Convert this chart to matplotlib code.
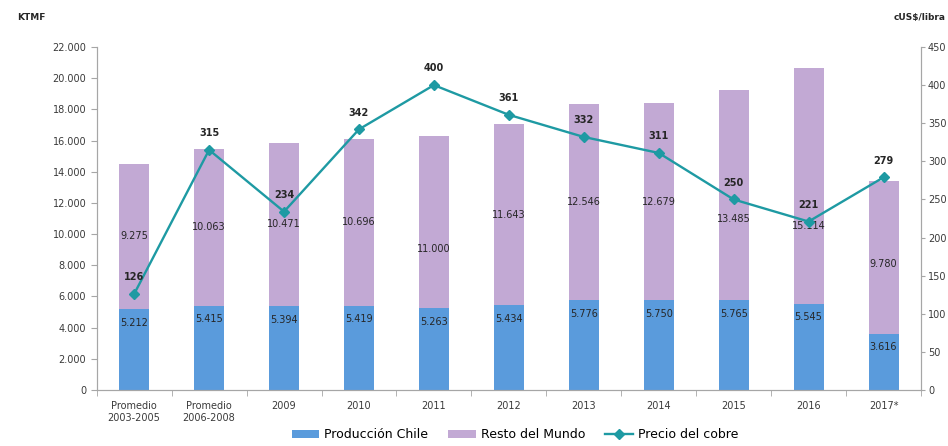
import numpy as np
import matplotlib.pyplot as plt
from matplotlib.ticker import FuncFormatter

# Datos
categorias = ['Promedio\n2003-2005', 'Promedio\n2006-2008', '2009', '2010', '2011',
              '2012', '2013', '2014', '2015', '2016', '2017*']
prod_chile = [5212, 5415, 5394, 5419, 5263, 5434, 5776, 5750, 5765, 5545, 3616]
resto_mundo = [9275, 10063, 10471, 10696, 11000, 11643, 12546, 12679, 13485, 15114, 9780]
precio_cobre = [126, 315, 234, 342, 400, 361, 332, 311, 250, 221, 279]

# desplazamiento vertical (pt) de las etiquetas de "Resto del Mundo"
desplaz_resto = [0, 0, 0, 0, -19, 0, 0, 0, -17, -29, -5]

azul = '#5A9BDC'
lila = '#C2A9D4'
verde = '#1E9AA3'
gris = '#A6A6A6'
texto = '#262626'

def miles(v, pos):
    return f'{int(v):,}'.replace(',', '.')

x = np.arange(len(categorias))

fig = plt.figure(figsize=(9.48, 4.46), dpi=100)
ax = fig.add_axes([0.102, 0.1256, 0.8695, 0.769])
ax2 = ax.twinx()

b1 = ax.bar(x, prod_chile, width=0.4, color=azul, label='Producción Chile', zorder=2)
b2 = ax.bar(x, resto_mundo, width=0.4, bottom=prod_chile, color=lila,
            label='Resto del Mundo', zorder=2)

for i in range(len(x)):
    ax.annotate(miles(prod_chile[i], None), (x[i], prod_chile[i]), xytext=(0, -10),
                textcoords='offset points', ha='center', va='center',
                fontsize=7, color=texto)
    ax.annotate(miles(resto_mundo[i], None), (x[i], prod_chile[i] + resto_mundo[i] / 2),
                xytext=(0, desplaz_resto[i]), textcoords='offset points',
                ha='center', va='center', fontsize=7, color=texto)

l1, = ax2.plot(x, precio_cobre, color=verde, lw=1.7, marker='D', ms=5.5,
               label='Precio del cobre', zorder=3)
for i in range(len(x)):
    ax2.annotate(str(precio_cobre[i]), (x[i], precio_cobre[i]), xytext=(0, 12),
                 textcoords='offset points', ha='center', va='center',
                 fontsize=7, fontweight='bold', color=texto)

ax.set_xlim(-0.5, len(x) - 0.5)
ax.set_ylim(0, 22000)
ax.set_yticks(np.arange(0, 22001, 2000))
ax.yaxis.set_major_formatter(FuncFormatter(miles))
ax2.set_ylim(0, 450)
ax2.set_yticks(np.arange(0, 451, 50))

ax.set_xticks(x)
ax.set_xticklabels(categorias, fontsize=7, color='#3a3a3a')
ax.set_xticks(np.arange(-0.5, len(x), 1), minor=True)
ax.tick_params(axis='x', which='major', length=0, pad=8)
ax.tick_params(axis='x', which='minor', length=4, color=gris)
ax.tick_params(axis='y', labelsize=7, length=4, color=gris, labelcolor='#3a3a3a')
ax2.tick_params(axis='y', labelsize=7, length=3, pad=2, color=gris, labelcolor='#3a3a3a')

for a in (ax, ax2):
    a.spines['top'].set_visible(False)
    for s in ('left', 'right', 'bottom'):
        a.spines[s].set_color(gris)

ax.set_zorder(ax2.get_zorder() - 1)
ax2.patch.set_visible(False)

fig.text(0.018, 0.955, 'KTMF', fontsize=6.5, fontweight='bold', color=texto)
fig.text(0.997, 0.955, 'cUS$/libra', fontsize=6.5, fontweight='bold', color=texto, ha='right')

fig.legend(handles=[b1, b2, l1], loc='lower center', bbox_to_anchor=(0.543, -0.015),
           ncol=3, frameon=False, fontsize=9, handlelength=2.2, columnspacing=1.6,
           handletextpad=0.4)

fig.savefig('out.png', dpi=100)
